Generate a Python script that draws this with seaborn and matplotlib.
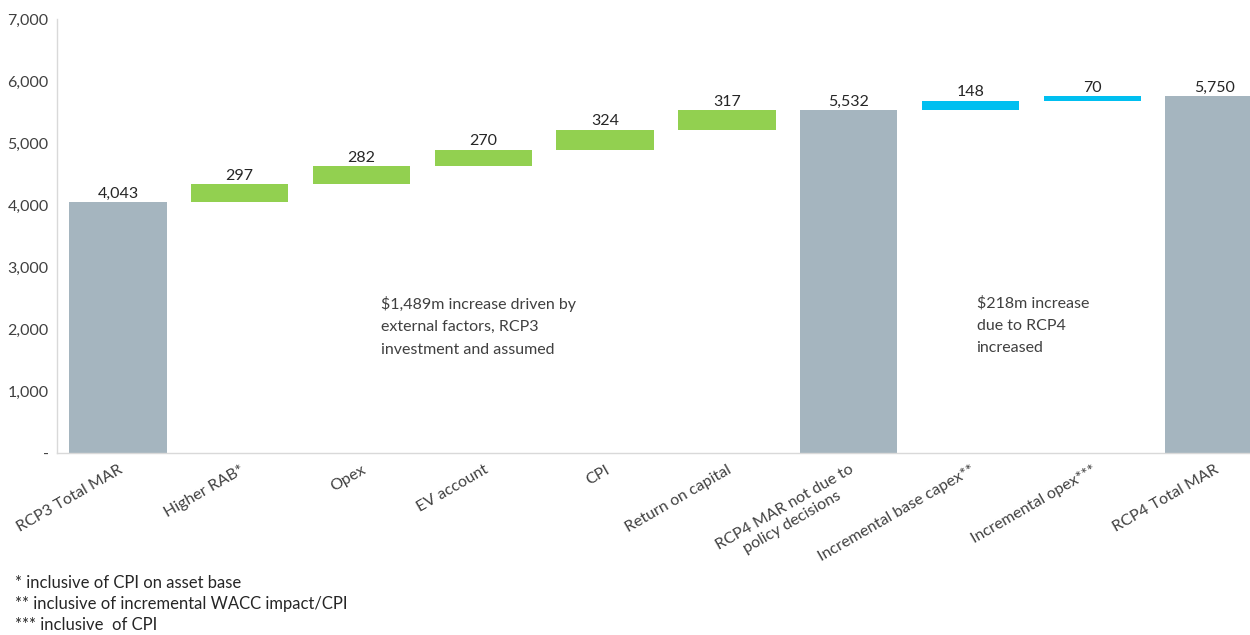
import matplotlib
matplotlib.use("Agg")
import matplotlib.pyplot as plt
import seaborn as sns
import numpy as np

# Waterfall data ($m)
categories = [
    "RCP3 Total MAR", "Higher RAB*", "Opex", "EV account", "CPI",
    "Return on capital", "RCP4 MAR not due to\npolicy decisions",
    "Incremental base capex**", "Incremental opex***", "RCP4 Total MAR",
]
values = [4043, 297, 282, 270, 324, 317, 5532, 148, 70, 5750]
bar_kind = ["total", "step", "step", "step", "step", "step",
            "total", "policy", "policy", "total"]
value_labels = ["4,043", "297", "282", "270", "324", "317",
                "5,532", "148", "70", "5,750"]
y_ticks = [0, 1000, 2000, 3000, 4000, 5000, 6000, 7000]
y_tick_labels = ["-", "1,000", "2,000", "3,000", "4,000", "5,000",
                 "6,000", "7,000"]
footnotes = [
    "* inclusive of CPI on asset base",
    "** inclusive of incremental WACC impact/CPI",
    "*** inclusive  of CPI",
]
note_external = "$1,489m increase driven by\nexternal factors, RCP3\ninvestment and assumed"
note_policy = "$218m increase\ndue to RCP4\nincreased"

kind_colors = {"total": "#A5B5BF", "step": "#92D050", "policy": "#00BFF0"}
text_color = "#404040"

# Floating bar bottoms: totals sit on zero, steps continue from the running sum
bottoms = []
running = 0
for v, k in zip(values, bar_kind):
    if k == "total":
        bottoms.append(0)
        running = v
    else:
        bottoms.append(running)
        running += v

sns.set_theme(style="white")
plt.rcParams["font.family"] = ["Lato", "DejaVu Sans"]

fig = plt.figure(figsize=(12.5, 6.35), dpi=100)
ax = fig.add_axes([57 / 1250, 182 / 635, (1275 - 57) / 1250, 434 / 635])

sns.barplot(x=list(range(len(categories))), y=values, bottom=bottoms,
            width=0.8, ax=ax, color=kind_colors["total"], saturation=1,
            linewidth=0)
for patch, k in zip(ax.patches, bar_kind):
    patch.set_facecolor(kind_colors[k])

# Value labels above each bar
for i, (b, v, lab) in enumerate(zip(bottoms, values, value_labels)):
    ax.annotate(lab, (i, b + v), xytext=(0, 1), textcoords="offset points",
                ha="center", va="bottom", fontsize=11.5, color="#262626")

ax.set_xlim(-0.5, len(categories) - 0.5)
ax.set_ylim(0, 7000)
ax.set_yticks(y_ticks)
ax.set_yticklabels(y_tick_labels)
ax.set_xticks(range(len(categories)))
ax.set_xticklabels(categories, rotation=30, ha="right",
                   rotation_mode="anchor", multialignment="center")
ax.tick_params(axis="y", length=0, pad=6, labelsize=11.5, labelcolor=text_color)
ax.tick_params(axis="x", length=0, pad=7, labelsize=11.5, labelcolor=text_color)
ax.set_xlabel("")
ax.set_ylabel("")

for side in ["top", "right"]:
    ax.spines[side].set_visible(False)
for side in ["left", "bottom"]:
    ax.spines[side].set_color("#D9D9D9")
    ax.spines[side].set_linewidth(1)

ax.text(2.16, 2530, note_external, ha="left", va="top", fontsize=11.5,
        color=text_color, linespacing=1.75)
ax.text(7.05, 2530, note_policy, ha="left", va="top", fontsize=11.5,
        color=text_color, linespacing=1.75)

for j, note in enumerate(footnotes):
    fig.text(15 / 1250, (635 - 583 - 21 * j) / 635, note, ha="left",
             va="center", fontsize=12, color="#262626")

fig.savefig("out.png", dpi=100)
